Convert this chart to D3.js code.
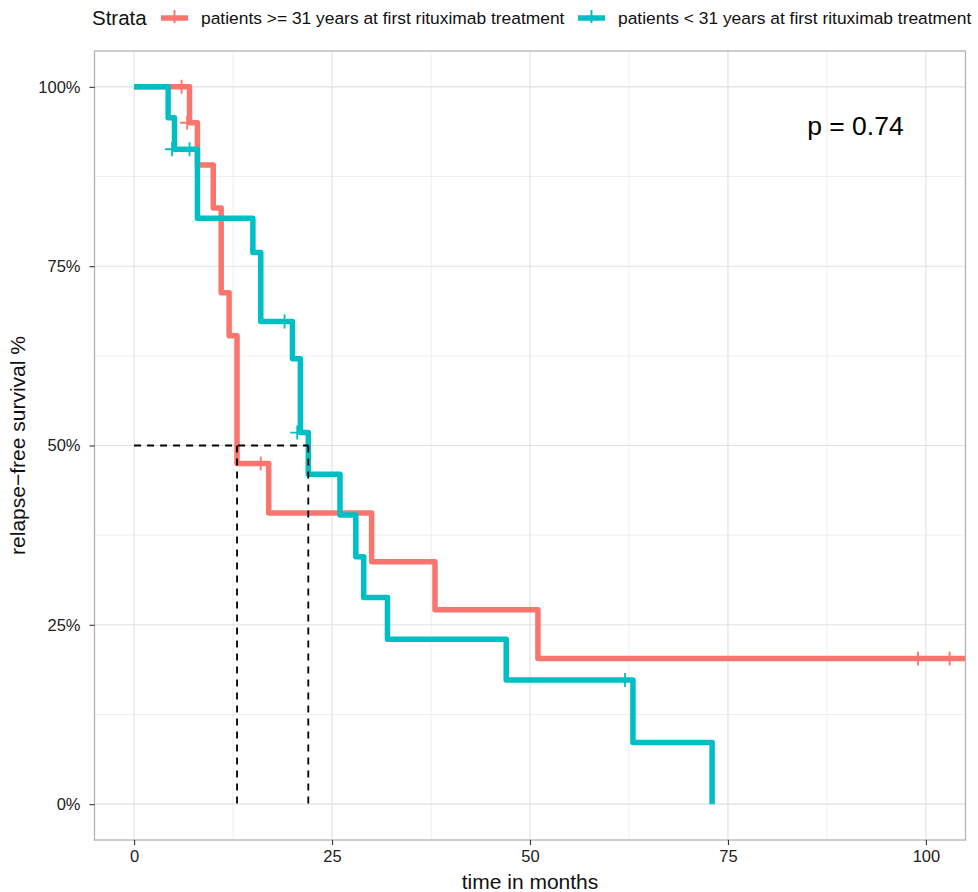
<script src="https://cdn.jsdelivr.net/npm/d3@7"></script>
<style>
  body { margin: 0; background: #fff; }
  text { font-family: "Liberation Sans", Arial, sans-serif; }
</style>
<div id="chart"></div>
<script>
// strata and colours
var strata = ["patients >= 31 years at first rituximab treatment", "patients < 31 years at first rituximab treatment"];
var colors = ["#F8766D", "#00BFC4"];

// step curve for patients >= 31 (time in months, survival)
var oldTime = [0, 7, 8, 10, 11, 12, 13, 17, 30, 38, 51, 106];
var oldSurv = [1, 0.95, 0.891, 0.831, 0.713, 0.653, 0.475, 0.406, 0.338, 0.271, 0.203, 0.203];
var oldCensorTime = [6, 6.7, 16, 99, 103];
var oldCensorSurv = [1, 0.95, 0.475, 0.203, 0.203];

// step curve for patients < 31
var youngTime = [0, 4.3, 5.1, 8, 15, 16, 20, 21, 22, 26, 28, 29, 32, 47, 63, 73];
var youngSurv = [1, 0.957, 0.913, 0.817, 0.769, 0.673, 0.621, 0.518, 0.460, 0.403, 0.345, 0.288, 0.230, 0.173, 0.086, 0];
var youngCensorTime = [4.8, 7, 19, 20.6, 62];
var youngCensorSurv = [0.913, 0.913, 0.673, 0.518, 0.173];

// medians
var medianTimes = [13, 22];

var xTicks = [0, 25, 50, 75, 100];
var yTicks = [0, 0.25, 0.5, 0.75, 1];
var xMinor = [12.5, 37.5, 62.5, 87.5];
var yMinor = [0.125, 0.375, 0.625, 0.875];

var W = 978, H = 892;
var pLeft = 94.5, pRight = 965.5, pTop = 51, pBottom = 840;

var svg = d3.select("#chart").append("svg").attr("width", W).attr("height", H);

var x = d3.scaleLinear().domain([-5, 105]).range([pLeft, pRight]);
var y = d3.scaleLinear().domain([-0.05, 1.05]).range([pBottom, pTop]);

svg.append("clipPath").attr("id", "panel")
  .append("rect").attr("x", pLeft).attr("y", pTop).attr("width", pRight - pLeft).attr("height", pBottom - pTop);

// grid
var grid = svg.append("g");
grid.selectAll(".xmin").data(xMinor).join("line")
  .attr("x1", d => x(d)).attr("x2", d => x(d)).attr("y1", pTop).attr("y2", pBottom)
  .attr("stroke", "#ebebeb").attr("stroke-width", 0.8);
grid.selectAll(".ymin").data(yMinor).join("line")
  .attr("y1", d => y(d)).attr("y2", d => y(d)).attr("x1", pLeft).attr("x2", pRight)
  .attr("stroke", "#ebebeb").attr("stroke-width", 0.8);
grid.selectAll(".xmaj").data(xTicks).join("line")
  .attr("x1", d => x(d)).attr("x2", d => x(d)).attr("y1", pTop).attr("y2", pBottom)
  .attr("stroke", "#e0e0e0").attr("stroke-width", 1.1);
grid.selectAll(".ymaj").data(yTicks).join("line")
  .attr("y1", d => y(d)).attr("y2", d => y(d)).attr("x1", pLeft).attr("x2", pRight)
  .attr("stroke", "#e0e0e0").attr("stroke-width", 1.1);

// curves
var step = d3.line().x(d => x(d[0])).y(d => y(d[1])).curve(d3.curveStepAfter);
var curves = [
  { time: oldTime, surv: oldSurv, ct: oldCensorTime, cs: oldCensorSurv },
  { time: youngTime, surv: youngSurv, ct: youngCensorTime, cs: youngCensorSurv }
];
var plot = svg.append("g").attr("clip-path", "url(#panel)");
curves.forEach(function(c, i) {
  plot.append("path")
    .attr("d", step(c.time.map((t, k) => [t, c.surv[k]])))
    .attr("fill", "none").attr("stroke", colors[i]).attr("stroke-width", 5.5)
    .attr("stroke-linejoin", "round");
});
curves.forEach(function(c, i) {
  plot.selectAll(".c" + i).data(c.ct.map((t, k) => [t, c.cs[k]])).join("path")
    .attr("transform", d => "translate(" + x(d[0]) + "," + y(d[1]) + ")")
    .attr("d", "M-7,0H7M0,-7V7")
    .attr("stroke", colors[i]).attr("stroke-width", 1.8).attr("fill", "none");
});

// median lines
var dash = svg.append("g").attr("stroke", "#000").attr("stroke-width", 1.8).attr("stroke-dasharray", "7,6").attr("fill", "none");
dash.append("line").attr("x1", x(0)).attr("x2", x(d3.max(medianTimes))).attr("y1", y(0.5)).attr("y2", y(0.5));
dash.selectAll(".v").data(medianTimes).join("line")
  .attr("x1", d => x(d)).attr("x2", d => x(d)).attr("y1", y(0.5)).attr("y2", y(0));

// border
svg.append("rect").attr("x", pLeft).attr("y", pTop).attr("width", pRight - pLeft).attr("height", pBottom - pTop)
  .attr("fill", "none").attr("stroke", "#b3b3b3").attr("stroke-width", 1.3);

// axes
var xAxis = svg.append("g").attr("transform", "translate(0," + pBottom + ")")
  .call(d3.axisBottom(x).tickValues(xTicks).tickSize(5).tickPadding(5));
var yAxis = svg.append("g").attr("transform", "translate(" + pLeft + ",0)")
  .call(d3.axisLeft(y).tickValues(yTicks).tickFormat(d => Math.round(d * 100) + "%").tickSize(5).tickPadding(9));
[xAxis, yAxis].forEach(function(a) {
  a.select(".domain").remove();
  a.attr("font-size", null).attr("font-family", null);
  a.selectAll(".tick line").attr("stroke", "#333").attr("stroke-width", 1.1);
  a.selectAll(".tick text").attr("fill", "#222").style("font-size", "16.5px");
});

// axis titles
svg.append("text").attr("x", (pLeft + pRight) / 2).attr("y", 889).attr("text-anchor", "middle")
  .style("font-size", "21px").attr("fill", "#111").text("time in months");
svg.append("text").attr("transform", "translate(25," + ((pTop + pBottom) / 2) + ") rotate(-90)").attr("text-anchor", "middle")
  .style("font-size", "21px").attr("fill", "#111").text("relapse\u2212free survival %");

// p value
svg.append("text").attr("x", x(85)).attr("y", y(0.946) + 9).style("font-size", "26.5px").attr("fill", "#000").text("p = 0.74");

// legend
var lg = svg.append("g");
lg.append("text").attr("x", 92).attr("y", 25).style("font-size", "20.5px").attr("fill", "#111").text("Strata");
var keyX = [161, 578];
strata.forEach(function(s, i) {
  var k = lg.append("g").attr("transform", "translate(" + keyX[i] + ",18)");
  k.append("line").attr("x1", 0).attr("x2", 27).attr("stroke", colors[i]).attr("stroke-width", 5.5);
  k.append("line").attr("x1", 13.5).attr("x2", 13.5).attr("y1", -8).attr("y2", 5).attr("stroke", colors[i]).attr("stroke-width", 2);
  lg.append("text").attr("x", keyX[i] + 40).attr("y", 24).style("font-size", "17.4px").attr("fill", "#111").text(s);
});
</script>
